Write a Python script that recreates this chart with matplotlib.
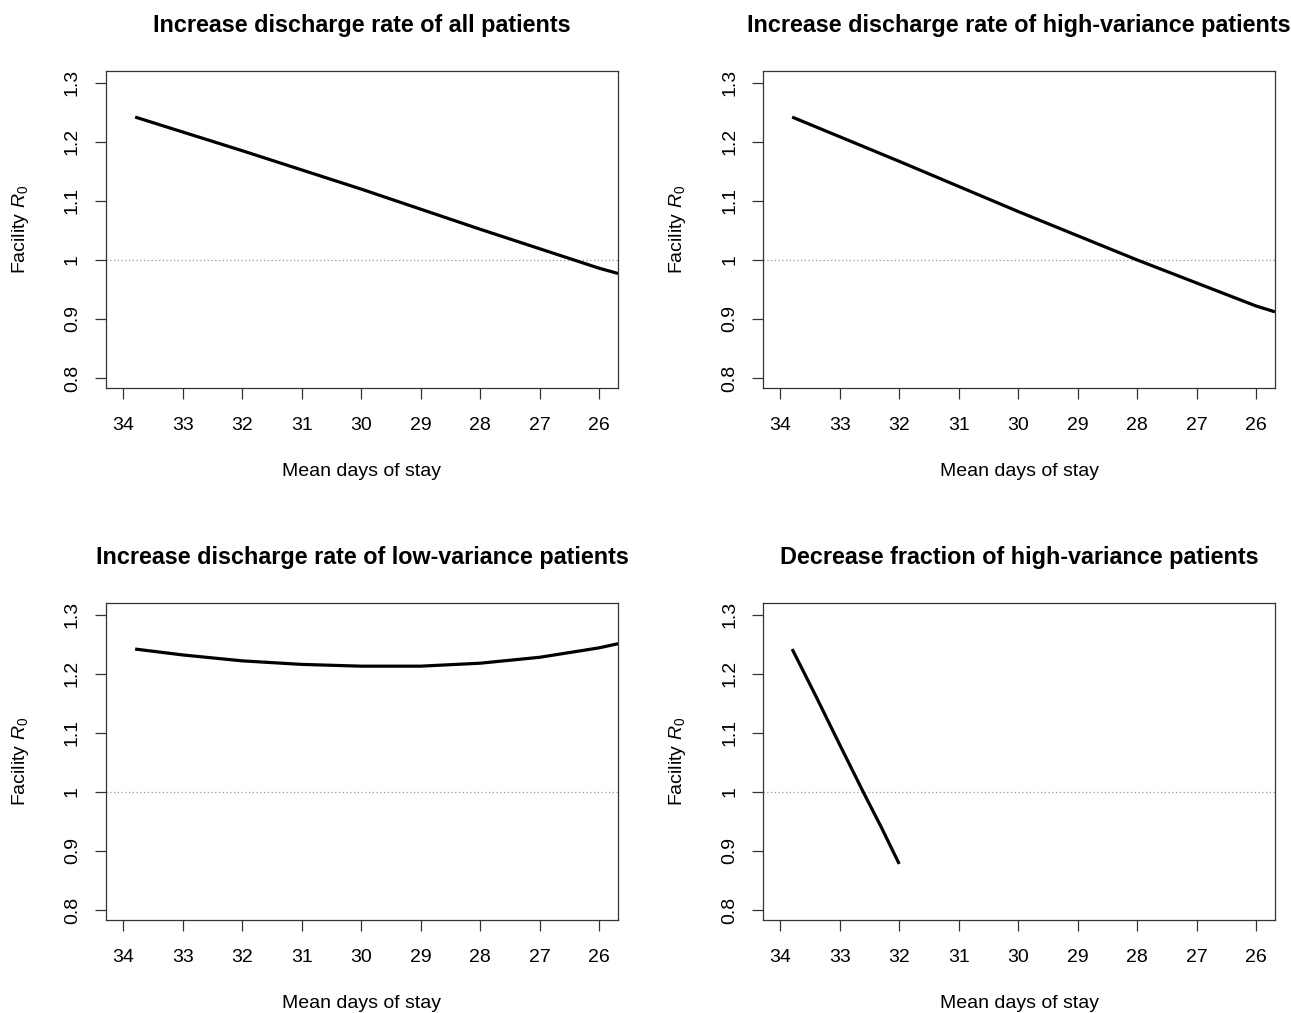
import numpy as np
import matplotlib
matplotlib.use("Agg")
from matplotlib import pyplot as plt

plt.rcParams['font.family'] = ['Liberation Sans', 'DejaVu Sans']
plt.rcParams['mathtext.fontset'] = 'custom'
plt.rcParams['mathtext.rm'] = 'Liberation Sans'
plt.rcParams['mathtext.it'] = 'Liberation Sans:italic'

titles = ['Increase discharge rate of all patients',
          'Increase discharge rate of high-variance patients',
          'Increase discharge rate of low-variance patients',
          'Decrease fraction of high-variance patients']

# mean days of stay (x) and facility R0 (y) for each panel
x_all = [33.8, 32, 30, 28, 26, 25.68]
y_all = [1.242, 1.185, 1.120, 1.052, 0.986, 0.977]

x_high = [33.8, 32, 30, 28, 26, 25.68]
y_high = [1.242, 1.167, 1.082, 1.000, 0.922, 0.912]

x_low = [33.8, 33, 32, 31, 30, 29, 28, 27, 26, 25.68]
y_low = [1.242, 1.232, 1.222, 1.216, 1.213, 1.213, 1.218, 1.228, 1.244, 1.251]

x_frac = [33.8, 33.4, 33, 32.6, 32.3, 32.0]
y_frac = [1.242, 1.162, 1.080, 0.999, 0.940, 0.878]

xticks = [34, 33, 32, 31, 30, 29, 28, 27, 26]
yticks = [0.8, 0.9, 1.0, 1.1, 1.2, 1.3]
yticklabels = ['0.8', '0.9', '1', '1.1', '1.2', '1.3']

series = [(x_all, y_all), (x_high, y_high), (x_low, y_low), (x_frac, y_frac)]

W, H = 1291, 1013
fig = plt.figure(figsize=(W / 100, H / 100), dpi=100)

boxes = [(106, 71), (763, 71), (106, 603), (763, 603)]
bw, bh = 512, 317

for i, (l, t) in enumerate(boxes):
    ax = fig.add_axes([l / W, (H - t - bh) / H, bw / W, bh / H])
    xs, ys = series[i]
    ax.axhline(1.0, color='#999999', lw=0.9, ls=(0, (1, 2)))
    ax.plot(xs, ys, color='black', lw=2.3, solid_capstyle='butt')
    ax.set_xlim(34.29, 25.68)
    ax.set_ylim(0.783, 1.32)
    ax.set_xticks(xticks)
    ax.set_xticklabels([str(v) for v in xticks])
    ax.set_yticks(yticks)
    ax.set_yticklabels(yticklabels, rotation=90, va='center')
    ax.tick_params(axis='both', direction='out', length=8, width=0.9,
                   labelsize=14, color='#333333')
    ax.tick_params(axis='x', pad=13)
    ax.tick_params(axis='y', pad=10)
    for s in ax.spines.values():
        s.set_linewidth(0.9)
        s.set_color('#333333')
    ax.set_xlabel('Mean days of stay', fontsize=14, labelpad=21)
    ax.set_ylabel('Facility $\\mathit{R}_0$', fontsize=14, labelpad=24)
    ax.set_title(titles[i], fontsize=16.8, fontweight='bold', pad=28)

fig.savefig('out.png', dpi=100)
